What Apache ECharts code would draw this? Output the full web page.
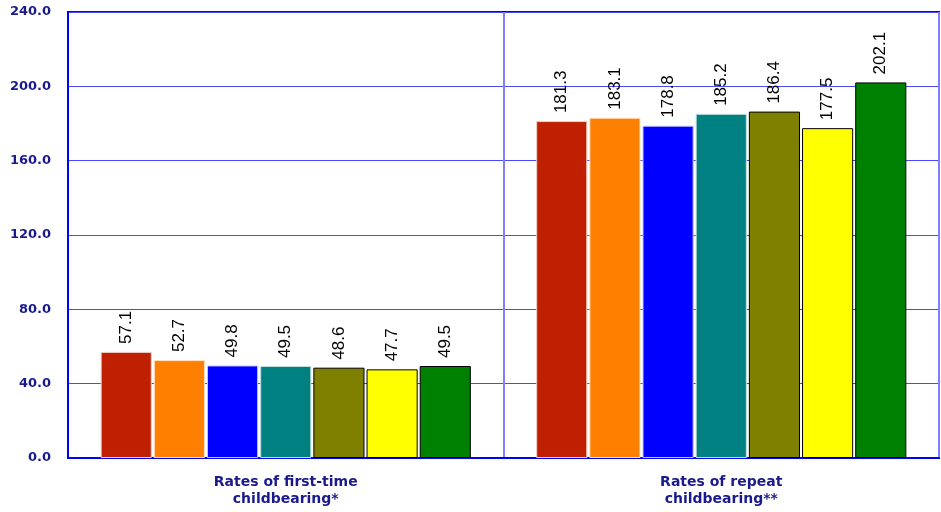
<!DOCTYPE html>
<html><head><meta charset="utf-8">
<script src="https://cdn.jsdelivr.net/npm/echarts@6/dist/echarts.min.js"></script>
<style>html,body{margin:0;padding:0;background:#fff}#c{width:941px;height:512px}</style>
</head><body><div id="c"></div>
<script>
const categories = ['Rates of first-time\nchildbearing*', 'Rates of repeat\nchildbearing**'];
const seriesNames = ['Series 1','Series 2','Series 3','Series 4','Series 5','Series 6','Series 7'];
const s1 = [57.1, 181.3];
const s2 = [52.7, 183.1];
const s3 = [49.8, 178.8];
const s4 = [49.5, 185.2];
const s5 = [48.6, 186.4];
const s6 = [47.7, 177.5];
const s7 = [49.5, 202.1];
const allValues = [s1, s2, s3, s4, s5, s6, s7];
const colors = ['#BF2000', '#FF8000', '#0000FF', '#008080', '#808000', '#FFFF00', '#008000'];
const borders = ['#f0d0c8', '#ffe0c0', '#c0c0ff', '#c0e0e0', '#000000', '#000000', '#000000'];

const chart = echarts.init(document.getElementById('c'));
chart.setOption({
  animation: false,
  grid: { left: 68, right: 2, top: 12, bottom: 54, show: true, borderColor: '#0000FF', borderWidth: 2 },
  xAxis: {
    type: 'category', data: categories,
    axisLine: { lineStyle: { color: '#0000FF', width: 2 } },
    axisTick: { show: false },
    splitLine: { show: true, lineStyle: { color: '#8080FF', width: 2 } },
    axisLabel: { color: '#1A1A8C', fontFamily: 'DejaVu Sans', fontWeight: 'bold', fontSize: 14, lineHeight: 17, margin: 16 }
  },
  yAxis: {
    type: 'value', min: 0, max: 240, interval: 40,
    axisLine: { show: true, lineStyle: { color: '#0000FF', width: 2 } },
    axisTick: { show: false },
    splitLine: { lineStyle: { color: '#4848FF', width: 1 } },
    axisLabel: { color: '#1A1A8C', fontFamily: 'DejaVu Sans', fontWeight: 'bold', fontSize: 13, margin: 17,
      formatter: v => v.toFixed(1) }
  },
  series: allValues.map((d, i) => ({
    type: 'bar', name: seriesNames[i], data: d,
    barCategoryGap: '15%', barGap: '4%',
    itemStyle: { color: colors[i], borderColor: borders[i], borderWidth: 1 },
    label: { show: true, position: 'top', rotate: 90, align: 'left', verticalAlign: 'middle', distance: 8,
      color: '#000', fontFamily: 'Liberation Sans', fontSize: 17,
      formatter: p => p.value.toFixed(1) }
  }))
});
</script></body></html>
